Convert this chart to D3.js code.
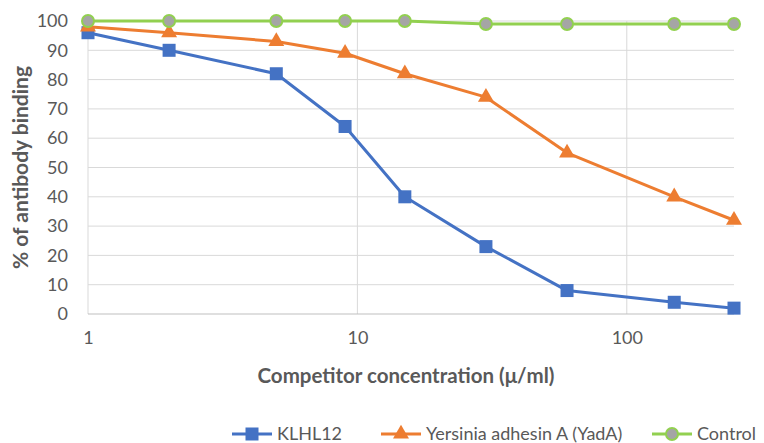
<!DOCTYPE html>
<html>
<head>
<meta charset="utf-8">
<script src="https://cdn.jsdelivr.net/npm/d3@7"></script>
<style>
  body { margin: 0; background: #fff; }
  svg { font-family: Lato, "Open Sans", sans-serif; }
</style>
</head>
<body>
<svg id="chart" width="764" height="443"></svg>
<script>
// concentrations (µ/ml) and % antibody binding
const concentrations = [1, 2, 5, 9, 15, 30, 60, 150, 250];
const klhl12 = [96, 90, 82, 64, 40, 23, 8, 4, 2];
const yadA = [98, 96, 93, 89, 82, 74, 55, 40, 32];
const control = [100, 100, 100, 100, 100, 99, 99, 99, 99];
const seriesNames = ["KLHL12", "Yersinia adhesin A (YadA)", "Control"];
const xTicks = [1, 10, 100];
const yTicks = [0, 10, 20, 30, 40, 50, 60, 70, 80, 90, 100];

const margin = {top: 21, right: 30, bottom: 129, left: 88};
const width = 764, height = 443;

const svg = d3.select("#chart");

const x = d3.scaleLog()
	.domain([1, 250])
	.range([margin.left, width - margin.right]);

const y = d3.scaleLinear()
	.domain([0, 100])
	.range([height - margin.bottom, margin.top]);

// gridlines
svg.append("g")
	.selectAll("line")
	.data(yTicks.slice(1))
	.enter()
	.append("line")
	.attr("x1", x(1)).attr("x2", x(250))
	.attr("y1", d => y(d)).attr("y2", d => y(d))
	.attr("stroke", "#d9d9d9").attr("stroke-width", 1);

svg.append("g")
	.selectAll("line")
	.data(xTicks)
	.enter()
	.append("line")
	.attr("x1", d => x(d)).attr("x2", d => x(d))
	.attr("y1", y(0)).attr("y2", y(100))
	.attr("stroke", "#d9d9d9").attr("stroke-width", 1);

// bottom axis line
svg.append("line")
	.attr("x1", x(1)).attr("x2", x(250))
	.attr("y1", y(0)).attr("y2", y(0))
	.attr("stroke", "#bfbfbf").attr("stroke-width", 1);

// axes text
const yAxis = svg.append("g")
	.attr("transform", `translate(${margin.left},0)`)
	.call(d3.axisLeft(y).tickValues(yTicks).tickSize(0).tickPadding(20));
yAxis.select(".domain").remove();
yAxis.selectAll("text")
	.attr("fill", "#595959")
	.style("font-size", "18px")
	.style("font-family", "Lato, sans-serif");

const xAxis = svg.append("g")
	.attr("transform", `translate(0,${y(0)})`)
	.call(d3.axisBottom(x).tickValues(xTicks).tickFormat(d3.format("d")).tickSize(0).tickPadding(17));
xAxis.select(".domain").remove();
xAxis.selectAll("text")
	.attr("fill", "#595959")
	.style("font-size", "18px")
	.style("font-family", "Lato, sans-serif");

svg.append("text")
	.attr("transform", `translate(28,${(y(0) + y(100)) / 2}) rotate(-90)`)
	.attr("text-anchor", "middle")
	.attr("fill", "#595959")
	.style("font-size", "21px")
	.style("font-weight", "bold")
	.text("% of antibody binding");

svg.append("text")
	.attr("x", 406)
	.attr("y", 383)
	.attr("text-anchor", "middle")
	.attr("fill", "#595959")
	.style("font-size", "20.5px")
	.style("font-weight", "bold")
	.text("Competitor concentration (\u03bc/ml)");

// series
const series = [
	{name: seriesNames[0], values: klhl12, color: "#4472c4", marker: "square"},
	{name: seriesNames[1], values: yadA, color: "#ed7d31", marker: "triangle"},
	{name: seriesNames[2], values: control, color: "#92d050", marker: "circle"}
];

const line = d3.line()
	.x((d, i) => x(concentrations[i]))
	.y(d => y(d));

function drawMarker(g, s, cx, cy) {
	if (s.marker === "square") {
		g.append("rect")
			.attr("x", cx - 6.5).attr("y", cy - 6.5)
			.attr("width", 13).attr("height", 13)
			.attr("fill", s.color);
	} else if (s.marker === "triangle") {
		g.append("path")
			.attr("d", d3.symbol().type(d3.symbolTriangle).size(110)())
			.attr("transform", `translate(${cx},${cy})`)
			.attr("fill", s.color);
	} else {
		g.append("circle")
			.attr("cx", cx).attr("cy", cy).attr("r", 6)
			.attr("fill", "#a5a5a5")
			.attr("stroke", s.color).attr("stroke-width", 2);
	}
}

series.forEach(s => {
	const g = svg.append("g");
	g.append("path")
		.datum(s.values)
		.attr("d", line)
		.attr("fill", "none")
		.attr("stroke", s.color)
		.attr("stroke-width", 3)
		.attr("stroke-linejoin", "round");
	s.values.forEach((v, i) => drawMarker(g, s, x(concentrations[i]), y(v)));
});

// legend
const legendX = [232, 381, 652];
series.forEach((s, i) => {
	const g = svg.append("g").attr("transform", `translate(${legendX[i]},434)`);
	g.append("line")
		.attr("x1", 0).attr("x2", 40)
		.attr("stroke", s.color).attr("stroke-width", 3);
	drawMarker(g, s, 20, 0);
	g.append("text")
		.attr("x", 45).attr("y", 0)
		.attr("dy", "0.35em")
		.attr("fill", "#595959")
		.style("font-size", "18px")
		.text(s.name);
});
</script>
</body>
</html>
